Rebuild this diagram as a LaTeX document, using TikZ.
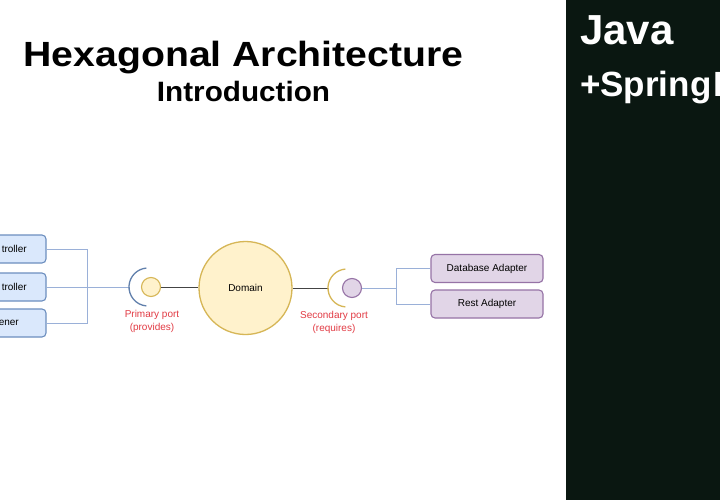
\documentclass[tikz,border=0pt]{standalone}
\usepackage{fontspec}
\setmainfont{Liberation Sans}
\newfontfamily\titlefont[FakeStretch=1.12]{Liberation Sans}
\newfontfamily\subfont[FakeStretch=1.06]{Liberation Sans}
\definecolor{blueFill}{HTML}{DAE8FC}
\definecolor{blueLine}{HTML}{6C8EBF}
\definecolor{connBlue}{HTML}{9AB0D8}
\definecolor{purpleFill}{HTML}{E1D5E7}
\definecolor{purpleLine}{HTML}{9673A6}
\definecolor{yellowFill}{HTML}{FFF2CC}
\definecolor{yellowLine}{HTML}{D6B656}
\definecolor{labelRed}{HTML}{E23B44}
\definecolor{panelDark}{HTML}{0A1711}
\definecolor{darkConn}{HTML}{444444}
\tikzset{
  bluebox/.style={draw=blueLine, fill=blueFill, line width=1.1pt, rounded corners=4pt, minimum width=116pt, minimum height=28pt, inner sep=0pt},
  purplebox/.style={draw=purpleLine, fill=purpleFill, line width=1.1pt, rounded corners=4pt, minimum width=112pt, minimum height=28pt, inner sep=0pt, font=\fontsize{10}{12}\selectfont},
  conn/.style={draw=connBlue, line width=0.9pt},
  darkconn/.style={draw=darkConn, line width=0.9pt},
  boxtext/.style={font=\fontsize{10}{12}\selectfont, inner sep=0pt},
  portlabel/.style={text=labelRed, align=center, font=\fontsize{10}{13.5}\selectfont, inner sep=0pt},
}
\begin{document}
\begin{tikzpicture}[x=1pt,y=-1pt]
\useasboundingbox (0,0) rectangle (720,500);
\clip (0,0) rectangle (720,500);
\fill[white] (0,0) rectangle (720,500);
% titles
\node[anchor=base, inner sep=0pt] (title) at (243.5,67) {\titlefont\bfseries\fontsize{35}{40}\selectfont Hexagonal Architecture};
\node[anchor=base, inner sep=0pt] (sub) at (243.5,102) {\subfont\bfseries\fontsize{28}{32}\selectfont Introduction};
% dark panel
\fill[panelDark] (566,0) rectangle (720,500);
\node[anchor=base west, inner sep=0pt, text=white] (java) at (580,45) {\bfseries\fontsize{42}{46}\selectfont Java};
\node[anchor=base west, inner sep=0pt, text=white] (spring) at (580,96.5) {\bfseries\fontsize{35}{40}\selectfont +Spring\kern2.5pt B};
% left boxes
\node[bluebox] (c1) at (-12,249) {};
\node[bluebox] (c2) at (-12,287) {};
\node[bluebox] (c3) at (-12,323) {};
\node[boxtext, anchor=east] (t1) at (27,249) {troller};
\node[boxtext, anchor=east] (t2) at (27,287) {troller};
\node[boxtext, anchor=east] (t3) at (19,323) {ener};
\coordinate (jL) at (87,287);
\coordinate (arcL) at (129,287);
\draw[conn] (c1.east) -| (jL);
\draw[conn] (c3.east) -| (jL);
\draw[conn] (c2.east) -- (arcL);
% primary port
\coordinate (pc) at (148,287);
\draw[draw=blueLine!90!black, line width=1.3pt] (pc) ++(95:19) arc[start angle=95, end angle=265, radius=19];
\node[circle, draw=yellowLine, fill=yellowFill, line width=1.1pt, minimum size=19pt, inner sep=0pt] (pp) at (151,287) {};
% domain
\node[circle, draw=yellowLine, fill=yellowFill, line width=1.3pt, minimum size=93pt, inner sep=0pt, font=\fontsize{10}{12}\selectfont] (dom) at (245.5,288) {Domain};
\draw[darkconn] (pp.east) -- (pp.east -| dom.west);
% secondary port
\coordinate (arcR) at (328,288);
\draw[darkconn] (dom.east) -- (arcR);
\coordinate (sc) at (347,288);
\draw[draw=yellowLine, line width=1.3pt] (sc) ++(95:19) arc[start angle=95, end angle=265, radius=19];
\node[circle, draw=purpleLine, fill=purpleFill, line width=1.1pt, minimum size=19pt, inner sep=0pt] (sp) at (352,288) {};
% right boxes
\node[purplebox] (db) at (487,268.5) {Database Adapter};
\node[purplebox] (ra) at (487,304) {Rest Adapter};
\coordinate (jR) at (396,288);
\draw[conn] (sp.east) -- (jR);
\draw[conn] (jR) |- (db.west);
\draw[conn] (jR) |- (ra.west);
% labels
\node[portlabel] (plab) at (152,321.5) {Primary port\\(provides)};
\node[portlabel] (slab) at (334,322.5) {Secondary port\\(requires)};
\end{tikzpicture}
\end{document}
